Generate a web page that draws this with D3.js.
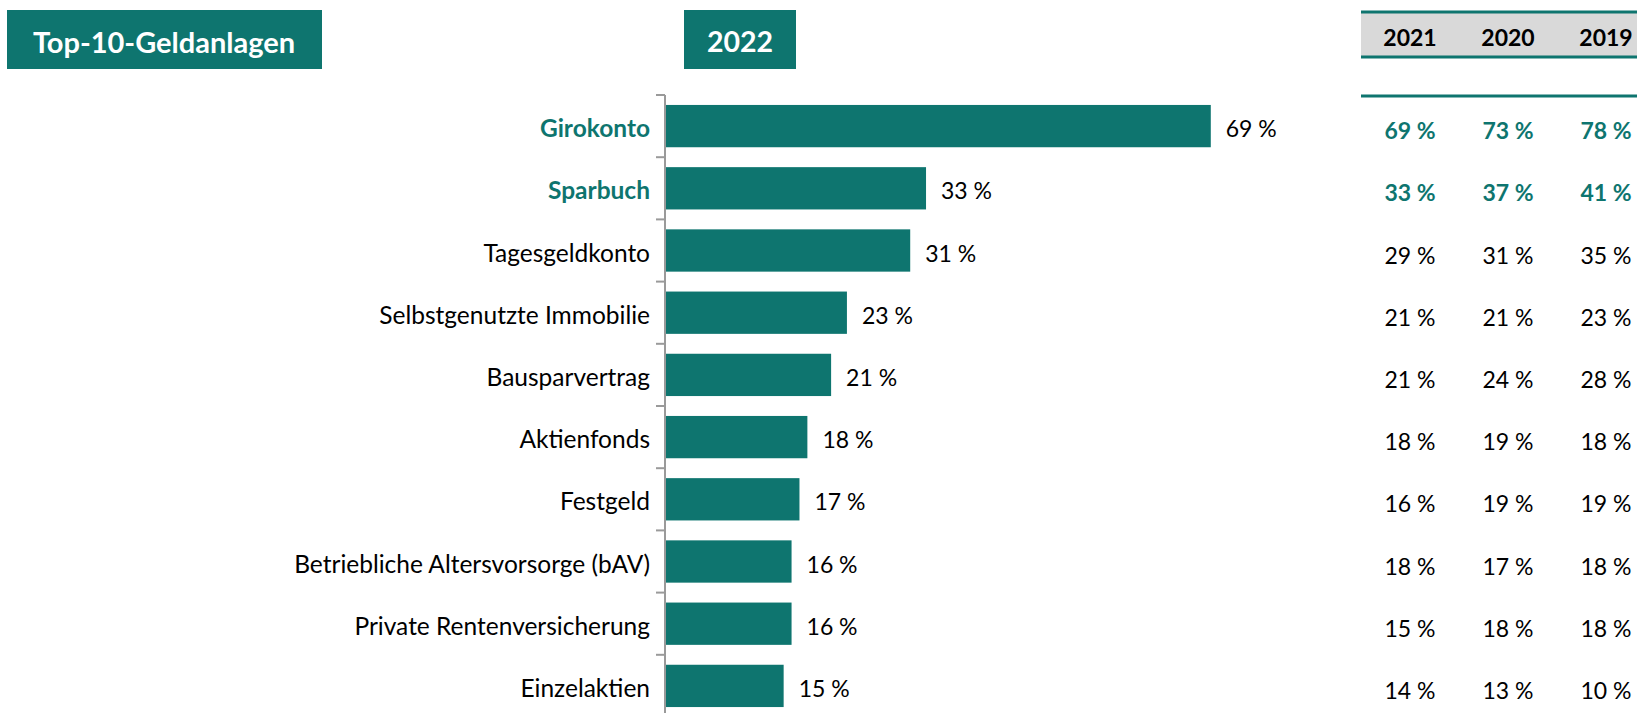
<!DOCTYPE html>
<html>
<head>
<meta charset="utf-8">
<script src="https://cdn.jsdelivr.net/npm/d3@7"></script>
<style>
  body { margin: 0; background: #fff; }
  svg text { font-family: Lato, "Open Sans", sans-serif; }
</style>
</head>
<body>
<div id="chart"></div>
<script>
var ancho = 1637, alto = 713;
var teal = "#0e756f";

var kategorien = ["Girokonto", "Sparbuch", "Tagesgeldkonto", "Selbstgenutzte Immobilie",
  "Bausparvertrag", "Aktienfonds", "Festgeld", "Betriebliche Altersvorsorge (bAV)",
  "Private Rentenversicherung", "Einzelaktien"];
var werte2022 = [69, 33, 31, 23, 21, 18, 17, 16, 16, 15];
var jahre = ["2021", "2020", "2019"];
var werte2021 = [69, 33, 29, 21, 21, 18, 16, 18, 15, 14];
var werte2020 = [73, 37, 31, 21, 24, 19, 19, 17, 18, 13];
var werte2019 = [78, 41, 35, 23, 28, 18, 19, 18, 18, 10];
var hervorgehoben = ["Girokonto", "Sparbuch"];

var svg = d3.select("#chart").append("svg")
  .attr("width", ancho)
  .attr("height", alto);

// Kopfzeilen-Boxen
svg.append("rect").attr("x", 7).attr("y", 10).attr("width", 315).attr("height", 59).attr("fill", teal);
svg.append("text").text("Top-10-Geldanlagen")
  .attr("x", 164).attr("y", 41).attr("text-anchor", "middle").attr("dominant-baseline", "central")
  .attr("font-size", "29px").attr("font-weight", "bold").attr("fill", "#fff");

svg.append("rect").attr("x", 684).attr("y", 10).attr("width", 112).attr("height", 59).attr("fill", teal);
svg.append("text").text("2022")
  .attr("x", 740).attr("y", 41).attr("text-anchor", "middle").attr("dominant-baseline", "central")
  .attr("font-size", "28.5px").attr("font-weight", "bold").attr("fill", "#fff");

// Skalen
var achseX = 665;
var escalaX = d3.scaleLinear().domain([0, 100]).range([achseX, achseX + 791]);
var escalaY = d3.scaleBand().domain(kategorien).range([95, 95 + 62.2 * kategorien.length]).paddingInner(0.32).paddingOuter(0.16);

var g = svg.append("g");

g.selectAll("rect.bar")
  .data(werte2022)
  .enter()
  .append("rect")
  .attr("class", "bar")
  .attr("x", escalaX(0))
  .attr("y", function (d, i) { return escalaY(kategorien[i]); })
  .attr("width", function (d) { return escalaX(d) - escalaX(0); })
  .attr("height", escalaY.bandwidth())
  .attr("fill", teal);

g.selectAll("text.wert")
  .data(werte2022)
  .enter()
  .append("text")
  .attr("class", "wert")
  .text(function (d) { return d + " %"; })
  .attr("x", function (d) { return escalaX(d) + 15; })
  .attr("y", function (d, i) { return escalaY(kategorien[i]) + escalaY.bandwidth() / 2 + 2; })
  .attr("dominant-baseline", "central")
  .attr("font-size", "23px")
  .attr("fill", "#000");

// Achse mit Kategorien
var achse = svg.append("g")
  .attr("transform", "translate(" + achseX + ",0)")
  .call(d3.axisLeft(escalaY).tickSize(0).tickPadding(15));
achse.select(".domain").remove();
achse.selectAll("text")
  .attr("font-size", "24.5px")
  .attr("dy", "0.45em")
  .attr("font-weight", function (d) { return hervorgehoben.indexOf(d) >= 0 ? "bold" : "normal"; })
  .attr("fill", function (d) { return hervorgehoben.indexOf(d) >= 0 ? teal : "#000"; });

svg.append("line").attr("x1", achseX).attr("x2", achseX).attr("y1", 95).attr("y2", alto)
  .attr("stroke", "#9a9a9a").attr("stroke-width", 2);
var grenzen = d3.range(kategorien.length).map(function (i) { return escalaY.step() * i + 95; });
svg.selectAll("line.tick")
  .data(grenzen)
  .enter()
  .append("line")
  .attr("class", "tick")
  .attr("x1", achseX - 9).attr("x2", achseX)
  .attr("y1", function (d) { return d; }).attr("y2", function (d) { return d; })
  .attr("stroke", "#9a9a9a").attr("stroke-width", 2);

// Tabelle Vorjahre
var escalaSpalte = d3.scalePoint().domain(jahre).range([1410, 1606]);
svg.append("rect").attr("x", 1361).attr("y", 12).attr("width", ancho - 1361).attr("height", 45).attr("fill", "#d9d9d9");
[12, 57, 96].forEach(function (y) {
  svg.append("line").attr("x1", 1361).attr("x2", ancho).attr("y1", y).attr("y2", y)
    .attr("stroke", teal).attr("stroke-width", 3);
});
svg.selectAll("text.jahr")
  .data(jahre)
  .enter()
  .append("text")
  .attr("class", "jahr")
  .text(function (d) { return d; })
  .attr("x", function (d) { return escalaSpalte(d); })
  .attr("y", 37)
  .attr("text-anchor", "middle")
  .attr("dominant-baseline", "central")
  .attr("font-size", "23px")
  .attr("font-weight", "bold")
  .attr("fill", "#000");

var spalten = [werte2021, werte2020, werte2019];
spalten.forEach(function (werte, j) {
  svg.selectAll("text.t" + j)
    .data(werte)
    .enter()
    .append("text")
    .attr("class", "t" + j)
    .text(function (d) { return d + " %"; })
    .attr("x", escalaSpalte(jahre[j]))
    .attr("y", function (d, i) { return escalaY(kategorien[i]) + escalaY.bandwidth() / 2 + 4; })
    .attr("text-anchor", "middle")
    .attr("dominant-baseline", "central")
    .attr("font-size", "23px")
    .attr("font-weight", function (d, i) { return i < 2 ? "bold" : "normal"; })
    .attr("fill", function (d, i) { return i < 2 ? teal : "#000"; });
});
</script>
</body>
</html>
